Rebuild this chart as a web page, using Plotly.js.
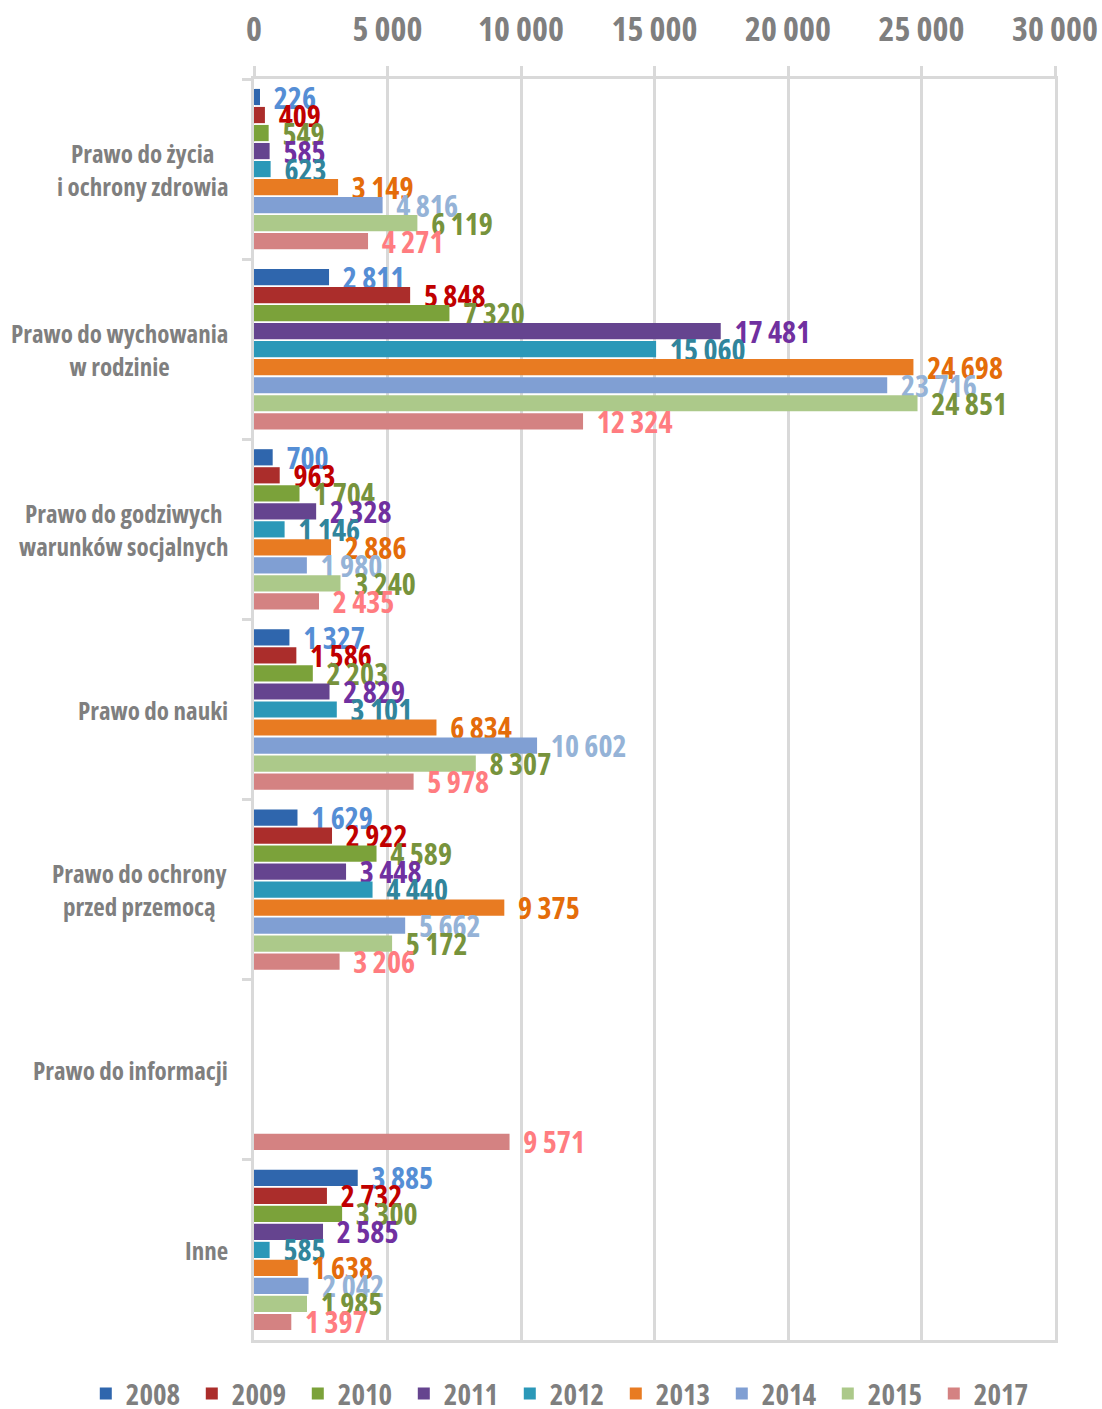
<!DOCTYPE html>
<html>
<head>
<meta charset="utf-8">
<script src="https://cdn.plot.ly/plotly-3.0.1.min.js"></script>
<style>
html,body{margin:0;padding:0;background:#fff;}
#chart{width:1102px;height:1409px;}
text, tspan { font-stretch: 75%; }
</style>
</head>
<body>
<div id="chart"></div>
<script>
const categories = [
  "Prawo do życia<br>i ochrony zdrowia",
  "Prawo do wychowania<br>w rodzinie",
  "Prawo do godziwych<br>warunków socjalnych",
  "Prawo do nauki",
  "Prawo do ochrony<br>przed przemocą",
  "Prawo do informacji",
  "Inne"
];
const years = ["2008","2009","2010","2011","2012","2013","2014","2015","2017"];
const v2008 = [226, 2811, 700, 1327, 1629, null, 3885];
const v2009 = [409, 5848, 963, 1586, 2922, null, 2732];
const v2010 = [549, 7320, 1704, 2203, 4589, null, 3300];
const v2011 = [585, 17481, 2328, 2829, 3448, null, 2585];
const v2012 = [623, 15060, 1146, 3101, 4440, null, 585];
const v2013 = [3149, 24698, 2886, 6834, 9375, null, 1638];
const v2014 = [4816, 23716, 1980, 10602, 5662, null, 2042];
const v2015 = [6119, 24851, 3240, 8307, 5172, null, 1985];
const v2017 = [4271, 12324, 2435, 5978, 3206, 9571, 1397];
const seriesValues = [v2008, v2009, v2010, v2011, v2012, v2013, v2014, v2015, v2017];
const xTicks = [0, 5000, 10000, 15000, 20000, 25000, 30000];

const barColors = ["#2f66ad","#ab2d2b","#7ba23a","#65448f","#2b98b8","#e87b22","#809fd3","#acc98a","#d48282"];
const labelColors = ["#558ed5","#c00000","#77933c","#7030a0","#31859c","#e46c0a","#95b3d7","#77933c","#ff7c80"];

const FONT = "'Open Sans', 'Roboto Condensed', sans-serif";
const GRAY = "#7f7f7f";
const GRID = "#d9d9d9";

function fmt(v){
  if (v === null || v === undefined) return "";
  return String(v).replace(/\B(?=(\d{3})+(?!\d))/g, "\u00A0");
}
function fmtLabel(v){
  if (v === null || v === undefined) return "";
  return "\u00A0\u00A0" + fmt(v);
}

const traces = years.map((yr, i) => ({
  type: "bar",
  orientation: "h",
  name: yr,
  y: categories,
  x: seriesValues[i],
  text: seriesValues[i].map(fmtLabel),
  textposition: "outside",
  constraintext: "none",
  cliponaxis: false,
  textfont: {family: FONT, size: 30, color: labelColors[i], weight: "bold"},
  marker: {color: barColors[i]},
  hoverinfo: "skip"
}));

const annotations = categories.map(c => ({
  xref: "paper", yref: "y",
  x: -0.03, y: c,
  xanchor: "right", yanchor: "middle",
  align: "center",
  showarrow: false,
  text: c,
  font: {family: FONT, size: 25, color: GRAY, weight: "bold"}
}));

const layout = {
  width: 1102, height: 1409,
  margin: {l: 254, r: 47, t: 79, b: 69, autoexpand: false},
  paper_bgcolor: "#fff",
  plot_bgcolor: "#fff",
  barmode: "group",
  bargap: 0.1,
  bargroupgap: 0.1,
  showlegend: true,
  legend: {
    orientation: "h",
    xref: "paper", yref: "paper",
    x: -0.21, xanchor: "left",
    y: -0.0425, yanchor: "middle",
    font: {family: FONT, size: 29, color: GRAY, weight: "bold"},
    entrywidth: 61,
    entrywidthmode: "pixels",
    tracegroupgap: 0,
    traceorder: "normal"
  },
  xaxis: {
    side: "top",
    range: [0, 30000],
    tickvals: xTicks,
    ticktext: xTicks.map(fmt),
    showgrid: true, gridcolor: GRID, gridwidth: 3,
    zeroline: false,
    showline: true, linecolor: GRID, linewidth: 3,
    mirror: true,
    ticks: "outside", ticklen: 10, tickwidth: 3, tickcolor: GRID,
    ticklabelstandoff: 11,
    ticklabeloverflow: "allow",
    tickfont: {family: FONT, size: 34, color: GRAY, weight: "bold"},
    fixedrange: true
  },
  yaxis: {
    type: "category",
    categoryorder: "array",
    categoryarray: categories,
    autorange: "reversed",
    showticklabels: false,
    tickson: "boundaries",
    ticks: "outside", ticklen: 9, tickwidth: 3, tickcolor: GRID,
    showgrid: false,
    showline: true, linecolor: GRID, linewidth: 3,
    mirror: true,
    zeroline: false,
    fixedrange: true
  },
  annotations: annotations
};

Plotly.newPlot("chart", traces, layout, {displayModeBar: false, staticPlot: true});
</script>
</body>
</html>
